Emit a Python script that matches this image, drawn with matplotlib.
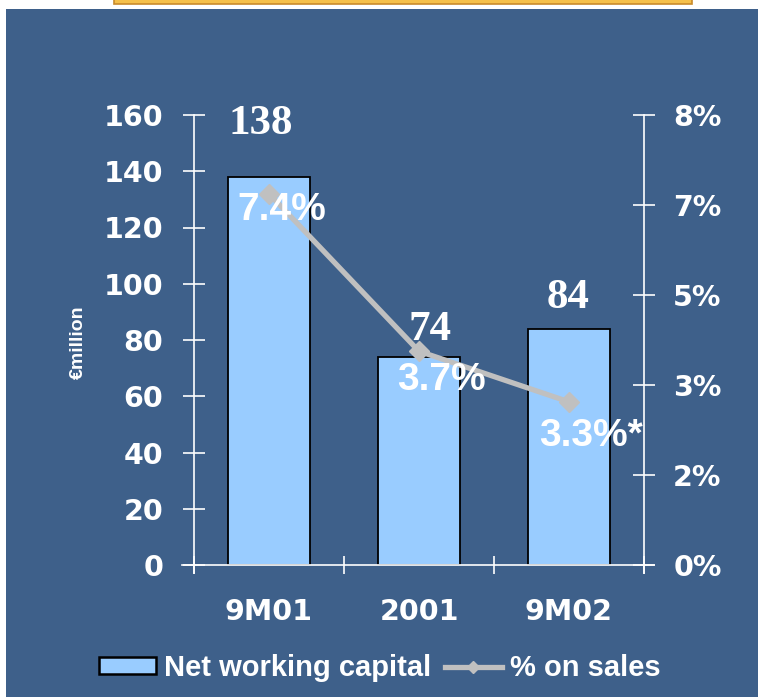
import matplotlib
matplotlib.use("Agg")
import matplotlib.pyplot as plt
from matplotlib.patches import Rectangle, Patch
from matplotlib.lines import Line2D

# ---- data ----
categories = ["9M01", "2001", "9M02"]
nwc_values = [138, 74, 84]
nwc_labels = ["138", "74", "84"]
pct_values = [6.6, 3.8, 2.9]           # plotted positions on right axis (%)
pct_labels = ["7.4%", "3.7%", "3.3%*"]
left_ticks = [0, 20, 40, 60, 80, 100, 120, 140, 160]
right_ticks = [0, 1.6, 3.2, 4.8, 6.4, 8.0]
right_tick_labels = ["0%", "2%", "3%", "5%", "7%", "8%"]

BG = "#3E608A"
BAR = "#99CCFF"
LINE = "#C0C0C0"
W = 758; H = 697

fig = plt.figure(figsize=(W / 100, H / 100), dpi=100, facecolor="white")

# blue panel and yellow title box remnant
fig.patches.append(Rectangle((6 / W, 0), 1 - 6 / W, 1 - 9 / H, transform=fig.transFigure,
                             facecolor=BG, edgecolor="none", zorder=-10))
fig.patches.append(Rectangle((114 / W, 1 - 4 / H), 578 / W, 6 / H, transform=fig.transFigure,
                             facecolor="#F5C04A", edgecolor="#C98B2B", linewidth=1.2, zorder=-9))

ax = fig.add_axes([194 / W, 1 - 565 / H, 450 / W, 450 / H])
ax.set_facecolor("none")
ax2 = ax.twinx()
ax2.set_facecolor("none")

x = list(range(len(categories)))
ax.bar(x, nwc_values, width=0.55, color=BAR, edgecolor="black", linewidth=1.3, zorder=2)
ax.set_xlim(-0.5, len(categories) - 0.5)
ax.set_ylim(0, 160)
ax2.set_ylim(0, 8)

ax2.plot(x, pct_values, color=LINE, linewidth=3.8, marker="D", markersize=10,
         markerfacecolor=LINE, markeredgecolor=LINE, zorder=3)

for s in list(ax.spines.values()) + list(ax2.spines.values()):
    s.set_visible(False)

# axis lines
lw = 1.2
ax.plot([0, 0], [-8 / 450, 1], transform=ax.transAxes, color="white", lw=lw, clip_on=False)
ax.plot([1, 1], [-8 / 450, 1], transform=ax.transAxes, color="white", lw=lw, clip_on=False)
ax.plot([-12 / 450, 1 + 10 / 450], [0, 0], transform=ax.transAxes, color="white", lw=lw, clip_on=False)

tick_font = dict(family="DejaVu Sans", weight="bold", size=20.5)

# left axis
ax.set_yticks(left_ticks)
ax.set_yticklabels([str(t) for t in left_ticks], fontdict=tick_font, color="white")
ax.tick_params(axis="y", direction="inout", length=16, width=lw, color="white", pad=14)

# x axis
ax.set_xticks([-0.5, 0.5, 1.5, 2.5])
ax.set_xticklabels([])
ax.tick_params(axis="x", which="major", direction="inout", length=13, width=lw, color="white")
ax.set_xticks(x, minor=True)
ax.set_xticklabels(categories, minor=True, fontdict=tick_font, color="white")
ax.tick_params(axis="x", which="minor", length=0, pad=24)

# right axis
ax2.set_yticks(right_ticks)
ax2.set_yticklabels(right_tick_labels, fontdict=tick_font, color="white")
ax2.tick_params(axis="y", direction="inout", length=16, width=lw, color="white", pad=13)

# bar value labels
bar_offsets = [(-6, 38), (8, 19.5), (-1, 22)]
for i, (v, lab) in enumerate(zip(nwc_values, nwc_labels)):
    ax.annotate(lab, xy=(i, v), xytext=bar_offsets[i], textcoords="offset points",
                ha="center", va="center", color="white", fontsize=31,
                family="Liberation Serif", weight="bold", zorder=5)

# percentage labels
pct_offsets = [(9.5, -11.5), (16, -21), (16, -24.5)]
for i, (v, lab) in enumerate(zip(pct_values, pct_labels)):
    ax2.annotate(lab, xy=(i, v), xytext=pct_offsets[i], textcoords="offset points",
                 ha="center", va="center", color="white", fontsize=28,
                 family="Liberation Sans", weight="bold", zorder=6)

# y label
fig.text(78 / W, 1 - 342 / H, "€million", rotation=90, ha="center", va="center",
         color="white", fontsize=14, family="Liberation Sans", weight="bold")

# legend
handles = [Patch(facecolor=BAR, edgecolor="black", linewidth=1.8),
           Line2D([], [], color=LINE, linewidth=3.8, marker="D", markersize=6,
                  markerfacecolor=LINE, markeredgecolor=LINE)]
leg = fig.legend(handles, ["Net working capital", "% on sales"], loc="center",
                 bbox_to_anchor=(380 / W, 1 - 668 / H), ncol=2, frameon=False,
                 handlelength=1.95, handleheight=0.5, handletextpad=0.3, columnspacing=0.45,
                 borderpad=0, prop=dict(family="Liberation Sans", weight="bold", size=21))
for t in leg.get_texts():
    t.set_color("white")

fig.savefig("out.png", dpi=100, facecolor="white")
